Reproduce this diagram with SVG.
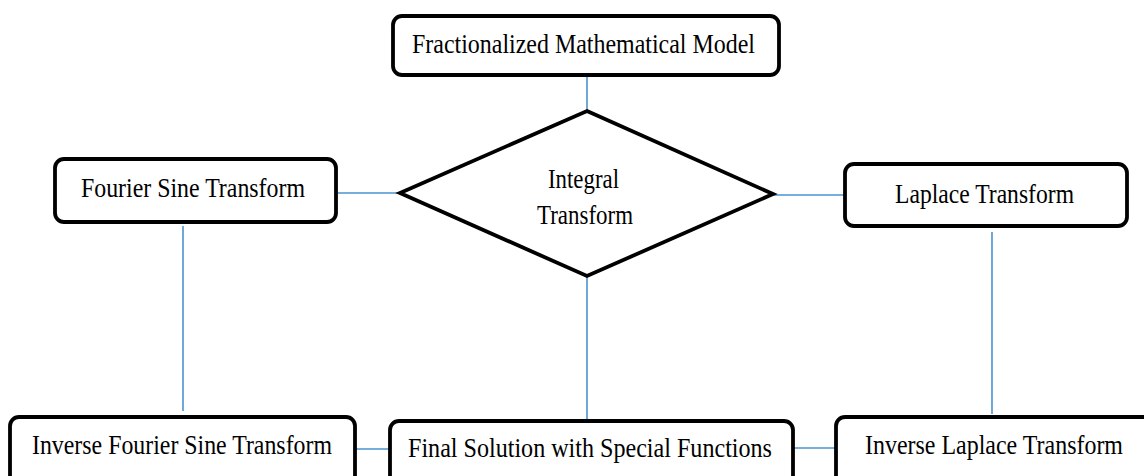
<svg xmlns="http://www.w3.org/2000/svg" width="1144" height="476" viewBox="0 0 1144 476">
<style>
.box{fill:#fff;stroke:#000;stroke-width:3.8}
.lbl{font-family:"Liberation Serif","Times New Roman",serif;font-size:27px;fill:#000}
.con{stroke:#4a93d0;stroke-width:1.6;fill:none}
</style>
<rect width="1144" height="476" fill="#fff"/>
<g id="connectors">
<line class="con" x1="587" y1="75" x2="587" y2="111"/>
<line class="con" x1="336" y1="193" x2="400" y2="193"/>
<line class="con" x1="773" y1="195" x2="845" y2="195"/>
<line class="con" x1="183" y1="226" x2="183" y2="411"/>
<line class="con" x1="992" y1="232" x2="992" y2="414"/>
<line class="con" x1="587" y1="276" x2="587" y2="420"/>
<line class="con" x1="355" y1="449" x2="390" y2="449"/>
<line class="con" x1="793" y1="448" x2="836" y2="448"/>
</g>
<g id="model">
<rect class="box" x="393" y="16" width="386" height="59" rx="9"/>
<text class="lbl" x="412" y="53" textLength="343" lengthAdjust="spacingAndGlyphs">Fractionalized Mathematical Model</text>
</g>
<g id="integral">
<polygon class="box" points="587,111 773,194 587,276 400,193" stroke-linejoin="miter"/>
<text class="lbl" x="548" y="188" textLength="71" lengthAdjust="spacingAndGlyphs">Integral</text>
<text class="lbl" x="537" y="224" textLength="96" lengthAdjust="spacingAndGlyphs">Transform</text>
</g>
<g id="fourier">
<rect class="box" x="55" y="159" width="281" height="63" rx="9"/>
<text class="lbl" x="81" y="197" textLength="224" lengthAdjust="spacingAndGlyphs">Fourier Sine Transform</text>
</g>
<g id="laplace">
<rect class="box" x="845" y="164" width="282" height="62" rx="9"/>
<text class="lbl" x="895" y="203" textLength="179" lengthAdjust="spacingAndGlyphs">Laplace Transform</text>
</g>
<g id="inv-fourier">
<rect class="box" x="10" y="417" width="345" height="80" rx="9"/>
<text class="lbl" x="32" y="454" textLength="300" lengthAdjust="spacingAndGlyphs">Inverse Fourier Sine Transform</text>
</g>
<g id="final">
<rect class="box" x="390" y="421" width="403" height="80" rx="9"/>
<text class="lbl" x="408" y="457" textLength="364" lengthAdjust="spacingAndGlyphs">Final Solution with Special Functions</text>
</g>
<g id="inv-laplace">
<rect class="box" x="836" y="417" width="330" height="80" rx="9"/>
<text class="lbl" x="865" y="454" textLength="258" lengthAdjust="spacingAndGlyphs">Inverse Laplace Transform</text>
</g>
</svg>
